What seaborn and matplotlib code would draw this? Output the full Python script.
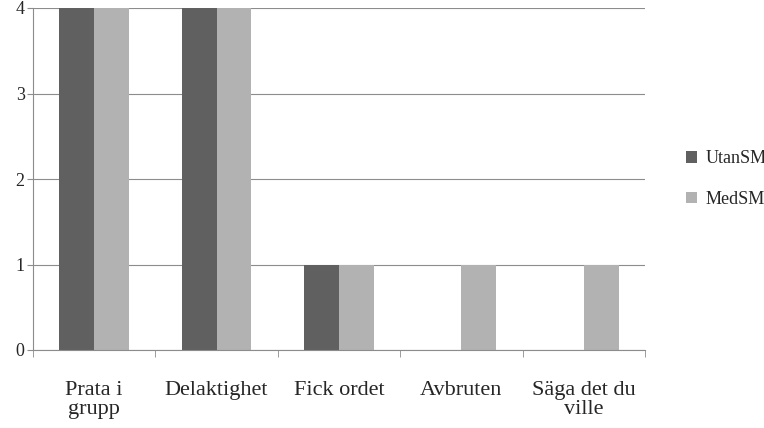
import matplotlib
matplotlib.use("Agg")
import matplotlib.pyplot as plt
import seaborn as sns
import pandas as pd
import numpy as np

categories = ["Prata i\ngrupp", "Delaktighet", "Fick ordet", "Avbruten", "Säga det du\nville"]
utan = [4, 4, 1, 0, 0]
med = [4, 4, 1, 1, 1]
series = ["UtanSM", "MedSM"]

df = pd.DataFrame({
    "cat": categories * 2,
    "val": utan + med,
    "ser": [series[0]] * 5 + [series[1]] * 5,
})

sns.set_style("white")
plt.rcParams["font.family"] = ["Liberation Serif", "DejaVu Serif"]

fig = plt.figure(figsize=(7.64, 4.28), dpi=100)
ax = fig.add_axes([33/764, 1-350/428, 612/764, 342/428])
sns.barplot(data=df, x="cat", y="val", hue="ser", palette=["#606060", "#b2b2b2"],
            width=0.57, ax=ax, saturation=1, linewidth=0, edgecolor="none")
ax.set_xlim(-0.5, 4.5)
ax.set_ylim(0, 4)
ax.set_yticks([0, 1, 2, 3, 4])
ax.yaxis.grid(True, color="#8c8c8c", linewidth=0.8)
ax.set_axisbelow(True)
for s in ["top", "right"]:
    ax.spines[s].set_visible(False)
for s in ["left", "bottom"]:
    ax.spines[s].set_color("#8c8c8c")
ax.set_xlabel("")
ax.set_ylabel("")
ax.tick_params(axis="x", length=0, labelsize=16, pad=22)
for t in ax.get_xticklabels():
    t.set_linespacing(1.0)
ax.tick_params(axis="y", length=4, color="#8c8c8c", labelsize=13, pad=2, direction="out", left=True)
ax.set_xticks(np.arange(-0.5, 5, 1), minor=True)
ax.tick_params(axis="x", which="minor", length=5, color="#8c8c8c", bottom=True, direction="out")
ax.legend(title=None, frameon=False, loc="center left", bbox_to_anchor=(1.04, 0.5),
          fontsize=13, handlelength=0.6, handleheight=0.6, labelspacing=1.3, handletextpad=0.5)
fig.savefig("out.png", dpi=100)
